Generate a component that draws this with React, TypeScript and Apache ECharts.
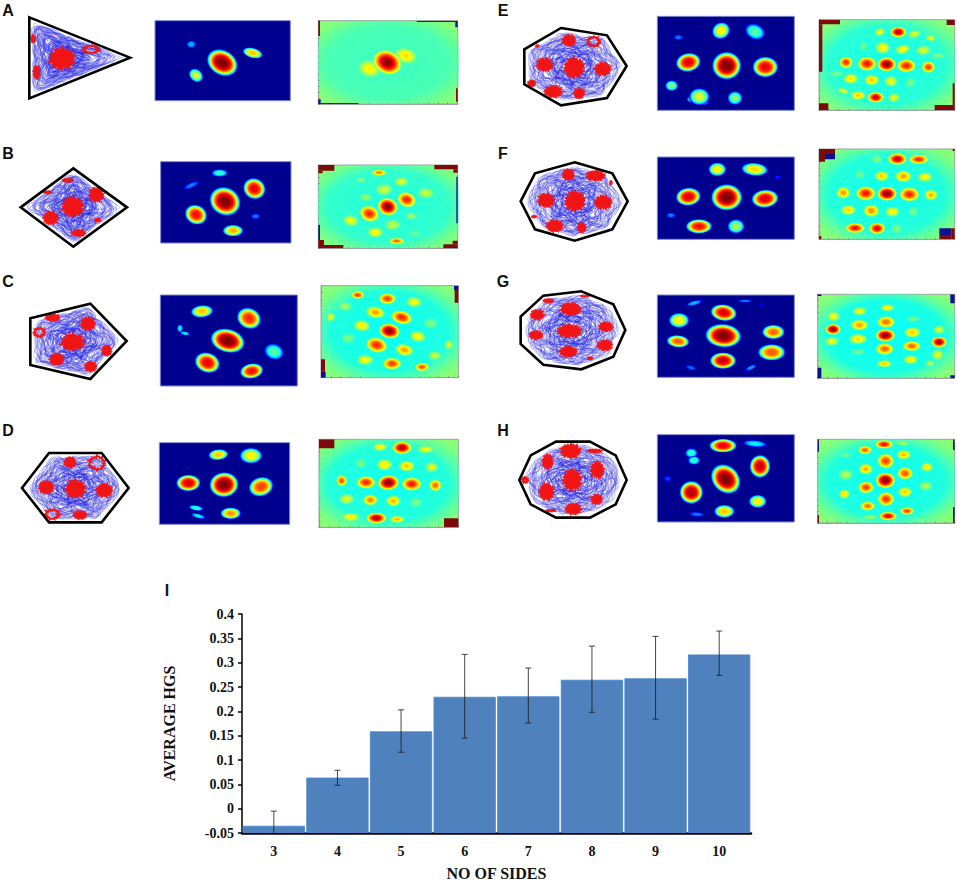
import React, { useEffect, useRef } from "react";
import * as echarts from "echarts";

// ---------- Bar chart values (panel I) ----------
const sides = ["3", "4", "5", "6", "7", "8", "9", "10"];
const meanHGS = [-0.036, 0.063, 0.158, 0.229, 0.23, 0.264, 0.267, 0.316];
const errLow = [-0.067, 0.048, 0.116, 0.145, 0.176, 0.198, 0.184, 0.274];
const errHigh = [-0.005, 0.079, 0.203, 0.317, 0.289, 0.334, 0.354, 0.365];

// ---------- Arena outlines (vertices, arena units) ----------
const ARENA_A = [[88, 52], [390, 173], [88, 295]];
const ARENA_B = [[220, 505], [381, 622], [220, 740], [62, 622]];
const ARENA_C = [[271, 101], [380, 213], [271, 327], [91, 285], [91, 145]];
const ARENA_D = [[147, 549], [305, 549], [386, 654], [305, 757], [147, 757], [66, 654]];
const ARENA_E = [[243, 84], [381, 106], [440, 198], [381, 294], [243, 316], [133, 253], [133, 148]];
const ARENA_F = [[284, 487], [397, 520], [443, 604], [397, 688], [284, 722], [165, 688], [122, 604], [165, 520]];
const ARENA_G = [[304, 64], [400, 103], [436, 180], [400, 260], [304, 298], [190, 284], [122, 222], [122, 140], [190, 77]];
const ARENA_H = [[330, 515], [407, 556], [440, 630], [407, 703], [330, 743], [228, 743], [152, 703], [118, 630], [152, 556], [228, 515]];

// ---------- Spike clusters: cx, cy, rx, ry, hollow ----------
const SPIKES_A = [[186, 176, 37, 33, 0], [273, 148, 23, 11, 1], [100, 117, 5, 9, 1], [110, 217, 11, 20, 0]];
const SPIKES_B = [[218, 620, 32, 30, 0], [289, 584, 22, 22, 0], [152, 654, 22, 20, 0], [236, 699, 20, 11, 0], [204, 541, 16, 6, 0], [143, 577, 12, 5, 0], [293, 660, 9, 6, 0]];
const SPIKES_C = [[218, 216, 34, 25, 0], [264, 161, 21, 20, 0], [171, 268, 22, 18, 0], [320, 242, 15, 16, 0], [272, 290, 18, 15, 0], [158, 143, 21, 11, 0], [118, 187, 15, 13, 1]];
const SPIKES_D = [[226, 656, 30, 27, 0], [139, 652, 22, 20, 0], [313, 661, 24, 21, 0], [210, 577, 18, 16, 0], [291, 579, 23, 20, 1], [240, 735, 20, 13, 0], [157, 733, 20, 14, 1]];
const SPIKES_E = [[282, 203, 30, 30, 0], [194, 194, 25, 20, 0], [368, 207, 24, 20, 0], [267, 121, 20, 17, 0], [341, 125, 18, 14, 1], [155, 250, 12, 10, 0], [220, 275, 27, 18, 0], [297, 280, 16, 16, 0], [172, 138, 5, 4, 0]];
const SPIKES_F = [[285, 603, 30, 30, 0], [198, 601, 25, 21, 0], [370, 607, 25, 21, 0], [265, 524, 18, 17, 0], [347, 527, 28, 16, 0], [224, 678, 25, 18, 0], [305, 683, 13, 15, 0], [162, 650, 7, 4, 0], [393, 548, 4, 6, 0]];
const SPIKES_G = [[268, 183, 35, 20, 0], [272, 117, 30, 19, 0], [265, 245, 26, 16, 0], [378, 170, 21, 14, 0], [168, 195, 20, 13, 0], [375, 226, 23, 16, 0], [172, 134, 20, 16, 0], [205, 92, 15, 6, 0], [315, 78, 12, 3, 0], [330, 265, 8, 5, 0]];
const SPIKES_H = [[277, 630, 28, 32, 0], [352, 600, 20, 24, 0], [200, 665, 22, 25, 0], [203, 575, 16, 22, 0], [272, 543, 30, 22, 0], [350, 688, 17, 15, 0], [280, 717, 24, 17, 0], [135, 630, 7, 7, 1], [345, 543, 20, 6, 0], [212, 722, 14, 4, 0]];

// Hand-read trajectory loops in a unit disc: cx, cy, rx, ry, tilt
const LOOPS = [
  [0, 0, 0.98, 0.9, 0], [0.05, -0.03, 0.9, 0.78, 20], [-0.06, 0.05, 0.85, 0.95, 40], [0.02, 0.08, 0.92, 0.7, -25],
  [-0.1, -0.08, 0.78, 0.86, 65], [0.12, 0.04, 0.76, 0.88, -50], [0.0, 0.12, 0.72, 0.62, 10], [-0.04, -0.14, 0.68, 0.7, 85],
  [0.1, -0.1, 0.66, 0.56, 35], [-0.12, 0.1, 0.62, 0.66, -15], [0.06, 0.02, 0.58, 0.46, 55], [-0.03, 0.03, 0.5, 0.6, -70],
  [0.14, 0.14, 0.54, 0.42, 15], [-0.16, -0.12, 0.5, 0.44, -35], [0.0, -0.05, 0.44, 0.38, 75], [0.04, 0.06, 0.36, 0.42, 25],
  [-0.05, 0.0, 0.3, 0.34, -45], [0.3, 0.05, 0.62, 0.5, 12], [-0.3, -0.04, 0.62, 0.54, -8], [0.05, 0.32, 0.6, 0.5, 30],
  [-0.04, -0.32, 0.58, 0.52, -28], [0.35, -0.28, 0.56, 0.5, 45], [-0.34, 0.3, 0.56, 0.48, 48], [0.32, 0.3, 0.52, 0.54, -42],
  [-0.32, -0.3, 0.54, 0.5, -48], [0.44, 0.0, 0.5, 0.62, 0], [-0.44, 0.02, 0.5, 0.6, 5], [0.0, 0.44, 0.66, 0.48, -5],
  [0.0, -0.44, 0.64, 0.48, 8], [0.16, -0.02, 0.8, 0.6, -12], [-0.14, 0.04, 0.82, 0.58, 18], [0.03, -0.02, 0.26, 0.24, 0],
  [0.6, 0.1, 0.3, 0.22, 30], [-0.6, -0.1, 0.32, 0.24, -20], [0.12, 0.62, 0.34, 0.22, 10], [-0.1, -0.62, 0.36, 0.24, 5],
  [0.5, 0.42, 0.28, 0.24, 60], [-0.5, 0.44, 0.3, 0.22, -40], [0.48, -0.46, 0.3, 0.24, -35], [-0.46, -0.48, 0.28, 0.22, 40],
  [0.28, 0.14, 0.22, 0.18, 0], [-0.26, 0.16, 0.2, 0.2, 10], [0.24, -0.18, 0.22, 0.16, 30], [-0.22, -0.2, 0.2, 0.18, -20],
  [0.42, -0.1, 0.2, 0.16, 15], [-0.42, 0.12, 0.2, 0.17, -30], [0.08, 0.34, 0.22, 0.14, 20], [-0.08, -0.36, 0.22, 0.15, 45],
  [0.72, -0.16, 0.18, 0.14, 50], [-0.72, 0.18, 0.2, 0.14, 25], [0.24, 0.72, 0.2, 0.13, 5], [-0.24, -0.72, 0.2, 0.14, 15],
  [0.36, 0.36, 0.16, 0.18, 40], [-0.36, -0.36, 0.17, 0.16, 60], [0.36, -0.4, 0.18, 0.14, -10], [-0.38, 0.36, 0.16, 0.15, 70],
];

// Irregularity of the trajectory, read as rough ratios around 1
const WOBBLE = [1.06, 0.94, 1.02, 1.1, 0.9, 0.97, 1.08, 0.92, 1.04, 0.96, 1.11, 0.89, 1.0, 1.07, 0.93, 1.03, 0.95, 1.09, 0.91, 1.05, 0.98];

// ---------- Rate maps: cx, cy, rx, ry, tilt, peak ----------
const MAP_A = [[574, 133, 14, 11, 0, 0.25], [588, 226, 23, 18, 40, 0.5], [758, 159, 30, 15, 15, 0.6], [667, 188, 47, 36, 30, 1]];
const MAP_B = [[574, 556, 25, 8, -25, 0.2], [767, 649, 14, 8, 0, 0.2], [659, 519, 24, 11, 0, 0.35], [699, 692, 30, 17, 0, 0.62], [588, 644, 33, 28, 25, 0.82], [763, 566, 33, 30, 30, 0.85], [675, 604, 46, 40, 30, 1]];
const MAP_C = [[540, 175, 9, 12, 0, 0.3], [555, 190, 15, 6, 10, 0.3], [822, 245, 29, 23, 20, 0.38], [606, 124, 33, 18, -5, 0.6], [747, 145, 36, 30, 25, 0.78], [755, 303, 34, 22, -10, 0.82], [622, 278, 37, 29, 20, 0.85], [683, 212, 50, 34, 15, 1]];
const MAP_D = [[588, 714, 22, 8, 10, 0.35], [595, 738, 22, 7, 15, 0.3], [753, 557, 33, 23, 0, 0.55], [655, 554, 29, 16, -5, 0.6], [692, 730, 30, 17, 0, 0.65], [783, 650, 36, 28, -15, 0.75], [565, 639, 35, 24, 0, 0.88], [672, 644, 42, 36, -5, 1]];
const MAP_E = [[595, 112, 14, 8, 0, 0.2], [635, 298, 15, 10, 0, 0.3], [672, 305, 15, 10, 0, 0.3], [825, 95, 30, 22, 25, 0.38], [575, 257, 19, 16, 0, 0.42], [765, 294, 22, 20, 0, 0.42], [658, 290, 30, 25, 0, 0.5], [723, 92, 27, 24, -30, 0.55], [856, 201, 37, 30, 0, 0.85], [625, 187, 36, 27, -10, 0.86], [740, 197, 42, 40, 0, 1]];
const MAP_F = [[893, 531, 11, 6, 0, 0.12], [573, 646, 14, 8, 0, 0.2], [768, 679, 25, 21, 0, 0.45], [712, 508, 26, 20, 0, 0.55], [824, 508, 39, 19, 5, 0.58], [657, 679, 38, 21, 0, 0.82], [855, 596, 39, 26, -5, 0.87], [625, 590, 36, 26, -5, 0.87], [740, 592, 45, 38, 0, 1]];
const MAP_G = [[845, 103, 10, 4, 0, 0.1], [633, 293, 16, 7, 15, 0.18], [795, 93, 22, 5, 0, 0.2], [813, 293, 18, 7, -25, 0.22], [643, 99, 24, 7, -15, 0.25], [597, 151, 30, 22, 0, 0.55], [880, 186, 33, 21, 0, 0.7], [594, 214, 33, 18, 5, 0.72], [875, 247, 40, 24, 0, 0.72], [731, 128, 38, 24, 8, 0.87], [729, 272, 38, 24, 0, 0.9], [730, 197, 52, 34, 5, 1]];
const MAP_H = [[563, 626, 12, 9, 0, 0.15], [651, 733, 22, 7, 5, 0.2], [825, 521, 35, 10, 5, 0.3], [634, 549, 18, 14, 0, 0.35], [642, 571, 18, 13, 0, 0.35], [833, 694, 26, 19, 0, 0.55], [733, 724, 30, 19, 0, 0.6], [729, 527, 40, 20, 0, 0.85], [840, 589, 30, 33, 0, 0.9], [634, 667, 34, 33, 0, 0.93], [737, 627, 47, 38, 45, 1]];

// ---------- Autocorrelograms: cx, cy, rx, ry, tilt, peak ----------
const AUTO_A = [[1217, 167, 30, 20, 15, 0.66], [1108, 206, 30, 22, 15, 0.64], [1162, 187, 38, 30, 25, 1]];
const AUTO_B = [[1245, 700, 13, 7, 0, 0.5], [1083, 540, 12, 7, 0, 0.52], [1097, 592, 16, 10, 0, 0.53], [1234, 648, 16, 9, 0, 0.53], [1178, 674, 21, 14, 0, 0.56], [1152, 569, 21, 15, 0, 0.58], [1278, 579, 21, 13, 0, 0.58], [1204, 545, 18, 12, 0, 0.6], [1052, 662, 20, 14, 15, 0.62], [1126, 697, 20, 13, 0, 0.64], [1137, 518, 20, 8, 0, 0.75], [1190, 723, 20, 8, 0, 0.78], [1220, 599, 24, 19, 20, 0.85], [1108, 641, 25, 20, 20, 0.85], [1163, 620, 26, 22, 20, 1]];
const AUTO_C = [[1292, 160, 18, 13, 0, 0.5], [1045, 205, 17, 12, 0, 0.5], [1035, 109, 17, 12, 0, 0.54], [1304, 257, 17, 12, 0, 0.57], [992, 141, 12, 12, 0, 0.6], [1346, 224, 11, 12, 0, 0.6], [1085, 167, 21, 14, 10, 0.65], [1253, 199, 21, 14, 10, 0.63], [1242, 96, 20, 13, 0, 0.63], [1095, 270, 21, 13, 0, 0.63], [1126, 127, 24, 15, 10, 0.72], [1213, 240, 23, 15, 10, 0.72], [1073, 75, 17, 10, 0, 0.82], [1162, 86, 22, 14, 0, 0.82], [1176, 281, 24, 15, 0, 0.82], [1266, 291, 18, 11, 0, 0.8], [1205, 142, 27, 17, 15, 0.85], [1130, 225, 27, 19, 15, 0.85], [1168, 183, 27, 19, 10, 1]];
const AUTO_D = [[1082, 580, 14, 11, 0, 0.5], [1248, 697, 15, 12, 0, 0.5], [1295, 591, 17, 13, 0, 0.6], [1040, 687, 19, 13, 0, 0.6], [1277, 538, 21, 10, 0, 0.62], [1153, 584, 20, 15, 0, 0.65], [1140, 531, 18, 10, 0, 0.65], [1052, 741, 23, 11, 0, 0.65], [1220, 588, 20, 14, 0, 0.68], [1180, 693, 19, 14, 0, 0.7], [1191, 748, 19, 9, 0, 0.7], [1111, 690, 19, 14, 0, 0.75], [1306, 646, 16, 15, 0, 0.78], [1025, 632, 14, 14, 0, 0.8], [1098, 637, 24, 16, 0, 0.85], [1235, 642, 25, 17, 0, 0.87], [1206, 533, 25, 16, 0, 0.95], [1129, 744, 26, 14, 0, 0.95], [1165, 638, 27, 19, -5, 1]];
const AUTO_E = [[1150, 138, 10, 13, 0, 0.48], [1068, 221, 19, 8, 0, 0.5], [1375, 167, 20, 8, 0, 0.5], [1291, 248, 12, 12, 0, 0.5], [1303, 102, 17, 10, -15, 0.6], [1330, 151, 19, 12, -5, 0.6], [1199, 96, 14, 10, -20, 0.63], [1352, 114, 13, 8, 15, 0.62], [1090, 273, 15, 7, 20, 0.62], [1242, 293, 15, 11, -15, 0.62], [1233, 244, 17, 14, 0, 0.62], [1208, 143, 19, 15, 0, 0.64], [1268, 148, 19, 12, -10, 0.64], [1112, 236, 19, 13, 0, 0.66], [1175, 240, 19, 14, 0, 0.68], [1134, 286, 19, 12, 0, 0.68], [1345, 201, 17, 15, 0, 0.82], [1098, 187, 17, 15, 0, 0.84], [1279, 197, 24, 17, 0, 0.85], [1161, 191, 24, 18, 0, 0.87], [1187, 292, 21, 14, 0, 0.93], [1255, 96, 21, 14, 0, 0.95], [1220, 193, 24, 18, 0, 1]];
const AUTO_F = [[1140, 523, 12, 11, 0, 0.48], [1190, 477, 13, 12, 0, 0.5], [1300, 635, 12, 11, 0, 0.5], [1250, 686, 14, 12, 0, 0.5], [1335, 531, 19, 12, 0, 0.64], [1237, 635, 18, 13, 0, 0.65], [1105, 630, 19, 13, 0, 0.67], [1205, 528, 18, 13, 0, 0.68], [1353, 585, 17, 14, 0, 0.7], [1270, 529, 21, 15, 0, 0.72], [1090, 578, 18, 15, 0, 0.73], [1174, 632, 20, 16, 0, 0.74], [1288, 583, 25, 18, 0, 0.85], [1316, 478, 25, 12, 0, 0.85], [1157, 580, 25, 18, 0, 0.87], [1125, 684, 25, 13, 0, 0.88], [1191, 685, 21, 15, 0, 0.9], [1252, 477, 24, 15, 0, 0.93], [1221, 581, 25, 18, 0, 1]];
const AUTO_G = [[1135, 245, 17, 8, 0, 0.48], [1300, 147, 17, 7, 0, 0.5], [1350, 280, 12, 9, 0, 0.55], [1377, 179, 16, 11, 0, 0.58], [1373, 254, 15, 14, 0, 0.6], [1060, 139, 17, 13, 0, 0.62], [1139, 123, 18, 11, 0, 0.62], [1055, 214, 18, 11, 0, 0.62], [1222, 113, 18, 9, 0, 0.65], [1292, 269, 18, 11, 0, 0.65], [1134, 207, 23, 13, 0, 0.66], [1297, 187, 21, 13, 0, 0.68], [1213, 281, 19, 9, 0, 0.68], [1138, 165, 23, 14, 0, 0.72], [1218, 156, 23, 15, 0, 0.77], [1214, 237, 23, 15, 0, 0.78], [1295, 228, 23, 13, 0, 0.78], [1377, 216, 20, 14, 0, 0.97], [1059, 178, 20, 14, 0, 0.98], [1216, 196, 25, 16, 0, 1]];
const AUTO_H = [[1097, 555, 14, 8, 0, 0.48], [1267, 520, 18, 6, 0, 0.55], [1170, 741, 18, 6, 0, 0.55], [1097, 614, 18, 14, 0, 0.55], [1337, 648, 16, 12, 0, 0.55], [1341, 591, 15, 12, 0, 0.65], [1093, 672, 14, 12, 0, 0.66], [1275, 666, 18, 13, 0, 0.68], [1271, 554, 18, 12, 0, 0.7], [1157, 597, 18, 14, 0, 0.7], [1163, 708, 19, 12, 0, 0.77], [1155, 540, 18, 11, 0, 0.78], [1275, 610, 20, 16, 0, 0.8], [1158, 652, 20, 15, 0, 0.82], [1217, 573, 21, 19, 0, 0.82], [1281, 723, 18, 10, 0, 0.82], [1218, 687, 21, 18, 0, 0.83], [1212, 523, 23, 11, 0, 0.88], [1224, 738, 23, 11, 0, 0.9], [1216, 631, 25, 20, 0, 1]];

// ---------- Out-of-arena corner patches of the autocorrelograms ----------
const RED = "#7d0a0a";
const BLUE = "#10108f";
const CORNERS_A: any[] = [[RED, 955, 62, 960, 108], [BLUE, 1366, 62, 1373, 82], [RED, 1250, 62, 1366, 66], [RED, 1368, 265, 1373, 305], [BLUE, 955, 298, 962, 312], [RED, 962, 309, 1075, 312]];
const CORNERS_B: any[] = [[RED, 955, 495, 1003, 512], [RED, 955, 512, 968, 520], [RED, 1303, 495, 1373, 508], [RED, 1360, 508, 1373, 518], [RED, 955, 735, 1030, 745], [RED, 955, 720, 972, 735], [RED, 1330, 733, 1373, 745], [RED, 1358, 722, 1373, 733], [BLUE, 955, 675, 960, 720], [BLUE, 1369, 530, 1373, 670]];
const CORNERS_C: any[] = [[BLUE, 1362, 47, 1375, 60], [RED, 1364, 60, 1375, 98], [RED, 963, 268, 975, 305], [BLUE, 963, 305, 977, 323]];
const CORNERS_D: any[] = [[RED, 957, 508, 1003, 535], [RED, 1332, 745, 1375, 772]];
const CORNERS_E: any[] = [[RED, 1017, 59, 1080, 73], [RED, 1017, 73, 1027, 215], [RED, 1400, 59, 1424, 75], [RED, 1364, 315, 1424, 331], [RED, 1418, 250, 1424, 315], [RED, 1017, 310, 1045, 331]];
const CORNERS_F: any[] = [[RED, 1017, 447, 1065, 462], [RED, 1017, 462, 1035, 485], [BLUE, 1035, 462, 1065, 478], [RED, 1418, 447, 1424, 453], [RED, 1415, 685, 1424, 718], [RED, 1378, 705, 1415, 718], [BLUE, 1378, 685, 1415, 705], [RED, 1017, 708, 1024, 718]];
const CORNERS_G: any[] = [[BLUE, 1013, 73, 1024, 78], [BLUE, 1411, 73, 1424, 100], [BLUE, 1013, 293, 1024, 325], [BLUE, 1411, 316, 1424, 325]];
const CORNERS_H: any[] = [[BLUE, 1013, 515, 1017, 545], [RED, 1013, 508, 1017, 515], [BLUE, 1419, 515, 1424, 540], [RED, 1419, 508, 1424, 515], [RED, 1013, 735, 1017, 759], [RED, 1419, 742, 1424, 759], [BLUE, 1419, 712, 1424, 742]];

// Jagged outline factors for spike clusters
const JAG = [1.02, 0.82, 1.14, 0.98, 1.06, 0.76, 1.2, 0.9, 1.0, 0.8, 1.16, 0.88, 1.1, 0.78, 1.08, 0.94, 0.96, 0.8, 1.18, 0.86, 1.02, 0.74, 1.12, 0.92];

// Panel groups: each group's units map to pixels at 1/3 scale from its page offset
const GROUPS = [
  { letter: "A", off: [0, 0], arenaBox: [0, 0, 450, 405], arena: ARENA_A, spikes: SPIKES_A, spin: 0, mapBox: [465, 62, 871, 302], map: MAP_A, autoBox: [955, 62, 1373, 312], auto: AUTO_A, corners: CORNERS_A, wash: 0.43 },
  { letter: "B", off: [0, 0], arenaBox: [0, 405, 450, 810], arena: ARENA_B, spikes: SPIKES_B, spin: 37, mapBox: [482, 485, 873, 729], map: MAP_B, autoBox: [955, 495, 1373, 745], auto: AUTO_B, corners: CORNERS_B, wash: 0.405 },
  { letter: "C", off: [0, 270], arenaBox: [0, 0, 450, 405], arena: ARENA_C, spikes: SPIKES_C, spin: 80, mapBox: [481, 75, 892, 348], map: MAP_C, autoBox: [963, 47, 1375, 323], auto: AUTO_C, corners: CORNERS_C, wash: 0.385 },
  { letter: "D", off: [0, 270], arenaBox: [0, 405, 450, 810], arena: ARENA_D, spikes: SPIKES_D, spin: 125, mapBox: [478, 518, 869, 763], map: MAP_D, autoBox: [957, 508, 1375, 772], auto: AUTO_D, corners: CORNERS_D, wash: 0.39 },
  { letter: "E", off: [480, 0], arenaBox: [0, 0, 477, 405], arena: ARENA_E, spikes: SPIKES_E, spin: 160, mapBox: [532, 49, 943, 331], map: MAP_E, autoBox: [1017, 59, 1424, 331], auto: AUTO_E, corners: CORNERS_E, wash: 0.395 },
  { letter: "F", off: [480, 0], arenaBox: [0, 405, 477, 810], arena: ARENA_F, spikes: SPIKES_F, spin: 205, mapBox: [532, 471, 943, 718], map: MAP_F, autoBox: [1017, 447, 1424, 718], auto: AUTO_F, corners: CORNERS_F, wash: 0.39 },
  { letter: "G", off: [480, 270], arenaBox: [0, 0, 477, 405], arena: ARENA_G, spikes: SPIKES_G, spin: 250, mapBox: [532, 75, 943, 322], map: MAP_G, autoBox: [1013, 73, 1424, 325], auto: AUTO_G, corners: CORNERS_G, wash: 0.38 },
  { letter: "H", off: [480, 270], arenaBox: [0, 405, 477, 810], arena: ARENA_H, spikes: SPIKES_H, spin: 300, mapBox: [532, 494, 943, 756], map: MAP_H, autoBox: [1013, 508, 1424, 759], auto: AUTO_H, corners: CORNERS_H, wash: 0.385 },
];

const LETTERS: [string, number, number][] = [
  ["A", 8, 10], ["B", 8, 153], ["C", 8, 281], ["D", 8, 430],
  ["E", 503, 10], ["F", 503, 153], ["G", 503, 281], ["H", 503, 430], ["I", 167, 590],
];

const clamp01 = (v: number) => Math.max(0, Math.min(1, v));
function jet(v: number, a = 1) {
  const r = clamp01(Math.min(4 * v - 1.5, -4 * v + 4.5));
  const g = clamp01(Math.min(4 * v - 0.5, -4 * v + 3.5));
  const b = clamp01(Math.min(4 * v + 0.56, -4 * v + 2.5));
  return `rgba(${Math.round(r * 255)},${Math.round(g * 255)},${Math.round(b * 255)},${a})`;
}

function blobStops(peak: number, base: number, power: number) {
  const stops: any[] = [];
  for (let i = 0; i <= 14; i++) {
    const t = i / 14;
    const v = base + (peak - base) * (1 - Math.pow(t, power));
    stops.push({ offset: t, color: jet(v, t >= 0.92 ? (1 - t) / 0.08 : 1) });
  }
  return stops;
}

function rayRadius(poly: number[][], c: number[], th: number) {
  const dx = Math.cos(th);
  const dy = Math.sin(th);
  let best = Infinity;
  for (let i = 0; i < poly.length; i++) {
    const a = poly[i];
    const b = poly[(i + 1) % poly.length];
    const ex = b[0] - a[0];
    const ey = b[1] - a[1];
    const den = dx * ey - dy * ex;
    if (Math.abs(den) < 1e-9) continue;
    const t = ((a[0] - c[0]) * ey - (a[1] - c[1]) * ex) / den;
    const u = ((a[0] - c[0]) * dy - (a[1] - c[1]) * dx) / den;
    if (t > 0 && u >= 0 && u <= 1) best = Math.min(best, t);
  }
  return best;
}

function buildOption() {
  const grids: any[] = [];
  const xAxes: any[] = [];
  const yAxes: any[] = [];
  const series: any[] = [];

  const addGrid = (box: number[], off: number[], extra: any, axisExtra: any = {}) => {
    grids.push({
      left: off[0] + box[0] / 3,
      top: off[1] + box[1] / 3,
      width: (box[2] - box[0]) / 3,
      height: (box[3] - box[1]) / 3,
      containLabel: false,
      ...extra,
    });
    const idx = grids.length - 1;
    xAxes.push({ gridIndex: idx, type: "value", min: box[0], max: box[2], show: false, ...(axisExtra.x || {}) });
    yAxes.push({ gridIndex: idx, type: "value", min: box[1], max: box[3], inverse: true, show: false, ...(axisExtra.y || {}) });
    return idx;
  };

  const blobSeries = (idx: number, data: number[][], base: number, power: number, grow: number, lift: number) => ({
    type: "custom",
    xAxisIndex: idx,
    yAxisIndex: idx,
    silent: true,
    clip: true,
    encode: { x: 0, y: 1 },
    data,
    renderItem: (_p: any, api: any) => {
      const c = api.coord([api.value(0), api.value(1)]);
      const peak = api.value(5);
      const k = peak < 0 ? 1 : grow;
      const s = api.size([api.value(2) * 2 * k, api.value(3) * 2 * k]);
      const shown = peak + lift * Math.sin(Math.PI * clamp01(peak));
      const colorStops =
        peak < 0
          ? [
              { offset: 0, color: jet(-peak, 1) },
              { offset: 0.7, color: jet(-peak + 0.015, 0.95) },
              { offset: 1, color: jet(0.44, 0) },
            ]
          : blobStops(shown, base, power);
      return {
        type: "ellipse",
        x: c[0],
        y: c[1],
        rotation: (-api.value(4) * Math.PI) / 180,
        shape: { cx: 0, cy: 0, rx: s[0] / 2, ry: s[1] / 2 },
        style: { fill: { type: "radial", x: 0.5, y: 0.5, r: 0.5, colorStops } },
      };
    },
  });

  GROUPS.forEach((g) => {
    // --- arena ---
    const ai = addGrid(g.arenaBox, g.off, { show: false });
    const cx = g.arena.reduce((s, p) => s + p[0], 0) / g.arena.length;
    const cy = g.arena.reduce((s, p) => s + p[1], 0) / g.arena.length;
    [0, 53].forEach((extraSpin, layer) => {
      series.push({
        type: "custom",
        xAxisIndex: ai,
        yAxisIndex: ai,
        silent: true,
        data: LOOPS,
        encode: { x: 0, y: 1 },
        renderItem: (p: any, api: any) => {
          const lx = api.value(0);
          const ly = api.value(1);
          const rx = api.value(2);
          const ry = api.value(3);
          const tilt = ((api.value(4) + g.spin + extraSpin) * Math.PI) / 180;
          const spin2 = ((extraSpin + g.spin) * Math.PI) / 180;
          const n = WOBBLE.length;
          const pts: number[][] = [];
          for (let i = 0; i <= n; i++) {
            const u = (i / n) * 2 * Math.PI;
            const w = WOBBLE[(i % n + p.dataIndex * 3 + layer * 7) % n];
            const ex = rx * w * Math.cos(u);
            const ey = ry * w * Math.sin(u);
            const ax = lx * Math.cos(spin2) - ly * Math.sin(spin2);
            const ay = lx * Math.sin(spin2) + ly * Math.cos(spin2);
            const px = ax + ex * Math.cos(tilt) - ey * Math.sin(tilt);
            const py = ay + ex * Math.sin(tilt) + ey * Math.cos(tilt);
            const rho = Math.min(1, Math.hypot(px, py));
            const th = Math.atan2(py, px);
            const R = rayRadius(g.arena, [cx, cy], th) * 0.9;
            pts.push(api.coord([cx + rho * R * Math.cos(th), cy + rho * R * Math.sin(th)]));
          }
          const reach = Math.hypot(lx, ly) + Math.max(rx, ry);
          const opacity = Math.max(0.32, Math.min(0.72, 0.86 - 0.52 * reach));
          return {
            type: "polyline",
            shape: { points: pts, smooth: 0.55 },
            style: { fill: "none", stroke: "#2222e6", lineWidth: 0.65, opacity },
          };
        },
      });
    });
    series.push({
      type: "custom",
      xAxisIndex: ai,
      yAxisIndex: ai,
      silent: true,
      data: g.spikes,
      encode: { x: 0, y: 1 },
      renderItem: (p: any, api: any) => {
        const c = [api.value(0), api.value(1)];
        const rx = api.value(2);
        const ry = api.value(3);
        const hollow = api.value(4);
        const count = 40;
        const pts: number[][] = [];
        for (let i = 0; i < count; i++) {
          const a = (i / count) * 2 * Math.PI;
          const k = JAG[(i * 5 + p.dataIndex * 7) % JAG.length];
          pts.push(api.coord([c[0] + rx * k * Math.cos(a), c[1] + ry * k * Math.sin(a)]));
        }
        return hollow
          ? { type: "polygon", shape: { points: pts }, style: { fill: "none", stroke: "#f01414", lineWidth: 1.6 } }
          : { type: "polygon", shape: { points: pts }, style: { fill: "#f01414", stroke: "#f01414", lineWidth: 0.8 } };
      },
    });
    series.push({
      type: "custom",
      xAxisIndex: ai,
      yAxisIndex: ai,
      silent: true,
      data: [g.arena[0]],
      encode: { x: 0, y: 1 },
      renderItem: (_p: any, api: any) => ({
        type: "polygon",
        shape: { points: g.arena.map((v) => api.coord(v)) },
        style: { fill: "none", stroke: "#000", lineWidth: 2.6, lineJoin: "miter" },
      }),
    });

    // --- rate map ---
    const mi = addGrid(g.mapBox, g.off, { show: true, backgroundColor: jet(0), borderColor: "#8088cc", borderWidth: 1 });
    series.push(blobSeries(mi, g.map, 0, 3, 1.08, 0.09));

    // --- autocorrelogram ---
    const b = g.autoBox;
    const ticksX: number[] = [];
    const ticksY: number[] = [];
    for (let i = 0; i <= 14; i++) {
      ticksX.push(b[0] + ((b[2] - b[0]) * i) / 14);
      ticksY.push(b[1] + ((b[3] - b[1]) * i) / 14);
    }
    const tickAxis = (vals: number[]) => ({
      show: true,
      axisLine: { show: true, onZero: false, lineStyle: { color: "#a0a0a0", width: 1 } },
      axisTick: { show: true, inside: true, length: 1.5, customValues: vals, lineStyle: { color: "#888", width: 1 } },
      axisLabel: { show: false },
      splitLine: { show: false },
    });
    const ci = addGrid(
      b,
      g.off,
      { show: true, backgroundColor: "#86ff79", borderColor: "#a0a0a0", borderWidth: 1 },
      { x: tickAxis(ticksX), y: tickAxis(ticksY) }
    );
    const wash = [[(b[0] + b[2]) / 2, (b[1] + b[3]) / 2, (b[2] - b[0]) * 0.62, (b[3] - b[1]) * 0.62, 0, -g.wash]];
    series.push(blobSeries(ci, [...wash, ...g.auto], 0.42, 1.9, 1.22, 0));
    series.push({
      type: "custom",
      xAxisIndex: ci,
      yAxisIndex: ci,
      silent: true,
      clip: true,
      data: g.corners.map((r: any[]) => r.slice(1)),
      encode: { x: 0, y: 1 },
      renderItem: (p: any, api: any) => {
        const a = api.coord([api.value(0), api.value(1)]);
        const e = api.coord([api.value(2), api.value(3)]);
        return {
          type: "rect",
          shape: { x: a[0], y: a[1], width: e[0] - a[0], height: e[1] - a[1] },
          style: { fill: g.corners[p.dataIndex][0] },
        };
      },
    });
  });

  // --- panel I: bar chart ---
  const fontFamily = "'Liberation Serif', serif";
  grids.push({ left: 242, top: 614, width: 509, height: 222, containLabel: false });
  const bi = grids.length - 1;
  xAxes.push({
    gridIndex: bi,
    type: "category",
    data: sides,
    name: "NO OF SIDES",
    nameLocation: "middle",
    nameGap: 32,
    nameTextStyle: { fontFamily, fontWeight: "bold", fontSize: 16, color: "#111" },
    axisLine: { onZero: false, lineStyle: { color: "#000", width: 2.5 } },
    axisTick: { show: false },
    axisLabel: { fontFamily, fontWeight: "bold", fontSize: 14, color: "#111", margin: 11 },
  });
  yAxes.push({
    gridIndex: bi,
    type: "value",
    min: -0.05,
    max: 0.4,
    interval: 0.05,
    name: "AVERAGE HGS",
    nameLocation: "middle",
    nameGap: 65,
    nameTextStyle: { fontFamily, fontWeight: "bold", fontSize: 16, color: "#111" },
    splitLine: { show: false },
    axisLine: { show: true, lineStyle: { color: "#000", width: 1.5 } },
    axisTick: { show: true, length: 4, lineStyle: { color: "#000", width: 1.5 } },
    axisLabel: {
      fontFamily,
      fontWeight: "bold",
      fontSize: 14,
      color: "#111",
      margin: 8,
      formatter: (v: number) => String(Math.round(v * 100) / 100),
    },
  });
  // Bars rise from the axis floor (-0.05), not from zero, as in the spreadsheet original.
  series.push({
    type: "custom",
    name: "Average HGS",
    xAxisIndex: bi,
    yAxisIndex: bi,
    silent: true,
    clip: true,
    z: 2,
    data: sides.map((_, i) => [i, meanHGS[i]]),
    encode: { x: 0, y: 1 },
    renderItem: (_p: any, api: any) => {
      const top = api.coord([api.value(0), api.value(1)]);
      const floor = api.coord([api.value(0), -0.05]);
      const w = api.size([1, 0])[0] * 0.965;
      return {
        type: "rect",
        shape: { x: top[0] - w / 2, y: top[1], width: w, height: floor[1] - top[1] },
        style: { fill: "#4f81bd", stroke: "#4484d0", lineWidth: 0.8 },
      };
    },
  });
  series.push({
    type: "custom",
    xAxisIndex: bi,
    yAxisIndex: bi,
    silent: true,
    clip: true,
    z: 5,
    data: sides.map((_, i) => [i, errLow[i], errHigh[i]]),
    encode: { x: 0, y: [1, 2] },
    renderItem: (_p: any, api: any) => {
      const lo = api.coord([api.value(0), api.value(1)]);
      const hi = api.coord([api.value(0), api.value(2)]);
      const st = { stroke: "rgba(25,25,25,0.8)", lineWidth: 1 };
      return {
        type: "group",
        children: [
          { type: "line", shape: { x1: lo[0], y1: lo[1], x2: hi[0], y2: hi[1] }, style: st },
          { type: "line", shape: { x1: lo[0] - 3, y1: lo[1], x2: lo[0] + 3, y2: lo[1] }, style: st },
          { type: "line", shape: { x1: hi[0] - 3, y1: hi[1], x2: hi[0] + 3, y2: hi[1] }, style: st },
        ],
      };
    },
  });

  return {
    animation: false,
    backgroundColor: "#fff",
    grid: grids,
    xAxis: xAxes,
    yAxis: yAxes,
    series,
    graphic: LETTERS.map(([t, x, y]) => ({
      type: "text",
      x,
      y,
      style: {
        text: t,
        fill: "#111",
        font: "bold 16px 'Liberation Sans', Arial, sans-serif",
        textAlign: "center",
        verticalAlign: "middle",
      },
    })),
  };
}

export default function App() {
  const ref = useRef<HTMLDivElement>(null);
  useEffect(() => {
    if (!ref.current) return;
    const chart = echarts.init(ref.current, undefined, { renderer: "svg" });
    chart.setOption(buildOption() as any);
    return () => chart.dispose();
  }, []);
  return <div ref={ref} style={{ position: "absolute", left: 0, top: 0, width: 957, height: 882 }} />;
}
